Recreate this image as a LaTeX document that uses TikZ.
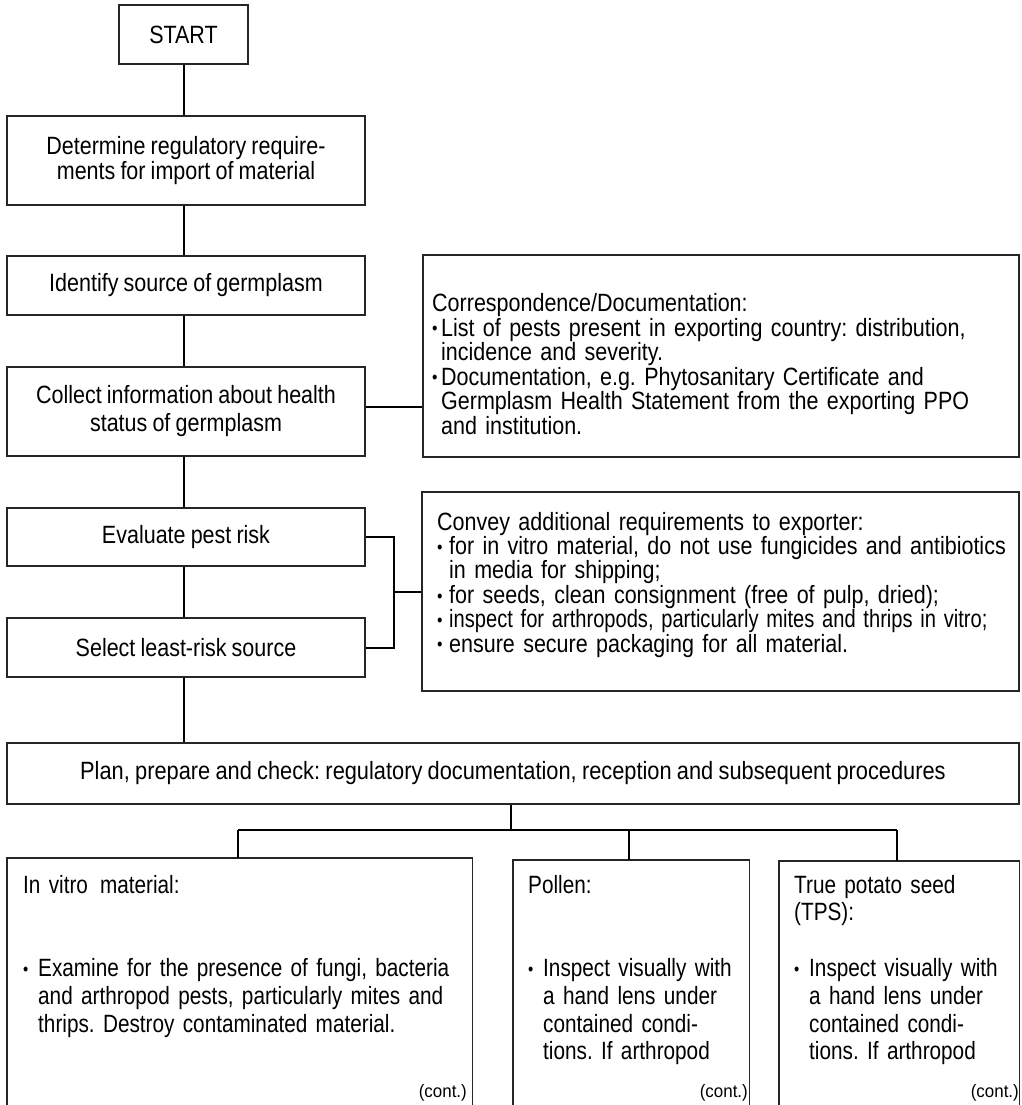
\documentclass[tikz,border=0pt]{standalone}
\usepackage{fontspec}
\setmainfont{Liberation Sans}[FakeStretch=0.86,WordSpace=0.86]
\newfontfamily\corrfont{Liberation Sans}[FakeStretch=0.86,WordSpace=0.86]
\newfontfamily\planfont{Liberation Sans}[FakeStretch=0.872,WordSpace=0.872]
\newfontfamily\childfont{Liberation Sans}[FakeStretch=0.83,WordSpace=0.83]
\newfontfamily\contfont{Liberation Sans}[FakeStretch=0.94]
\newcommand{\smallbullet}{\raisebox{1.2pt}{\scalebox{0.72}{\textbullet}}}
\newcommand{\blA}{\makebox[9pt][l]{\smallbullet}}
\newcommand{\blB}{\makebox[12pt][l]{\smallbullet}}
\newcommand{\blC}{\makebox[15pt][l]{\smallbullet}}
\begin{document}
\frenchspacing
\begin{tikzpicture}[x=1pt,y=-1pt,
  box/.style={draw=black!85, line width=1.4pt, inner sep=0pt, align=center,
              font=\fontsize{25}{25}\selectfont\frenchspacing},
  openbox/.style={inner sep=0pt},
  boxline/.style={draw=black!85, line width=1.4pt},
  conn/.style={line width=2pt, black},
  txt/.style={anchor=base west, inner sep=0pt, align=left},
  childtxt/.style={txt, font=\childfont\fontsize{25}{27.8}\selectfont\frenchspacing},
  conttxt/.style={anchor=base east, inner sep=0pt, font=\contfont\fontsize{18}{18}\selectfont}
]
\useasboundingbox (0,0) rectangle (1021,1105);

% left column
\node[box, minimum width=129pt, minimum height=59pt] (start) at (183.5,34.5) {START};
\node[box, minimum width=358pt, minimum height=89pt] (determine) at (186,160.5)
  {Determine regulatory require-\\ments for import of material};
\node[box, minimum width=358pt, minimum height=59pt] (identify) at (186,285.5)
  {Identify source of germplasm};
\node[box, minimum width=358pt, minimum height=89pt, font=\fontsize{25}{28}\selectfont\frenchspacing] (collect) at (186,411.5)
  {Collect information about health\\status of germplasm};
\node[box, minimum width=358pt, minimum height=58pt] (evaluate) at (186,537)
  {Evaluate pest risk};
\node[box, minimum width=358pt, minimum height=59pt] (select) at (186,647.5)
  {Select least-risk source};

% right boxes
\node[box, minimum width=596pt, minimum height=202pt] (corr) at (721,356) {};
\node[txt, text width=582pt, font=\corrfont\fontsize{25}{24.5}\selectfont\frenchspacing] (corrtext) at (432,311.5)
  {Correspondence/Documentation:\\
   \blA List of pests present in exporting country: distribution,\\
   \hspace*{9pt}incidence and severity.\\
   \blA Documentation, e.g. Phytosanitary Certificate and\\
   \hspace*{9pt}Germplasm Health Statement from the exporting PPO\\
   \hspace*{9pt}and institution.};

\node[box, minimum width=597pt, minimum height=199pt] (convey) at (720.5,591.5) {};
\node[txt, text width=580pt, font=\fontsize{25}{24.4}\selectfont\frenchspacing] (conveytext) at (437,530)
  {Convey additional requirements to exporter:\\
   \blB for in vitro material, do not use fungicides and antibiotics\\
   \hspace*{12pt}in media for shipping;\\
   \blB for seeds, clean consignment (free of pulp, dried);\\
   \blB \scalebox{0.935}[1]{inspect for arthropods, particularly mites and thrips in vitro;}\\
   \blB ensure secure packaging for all material.};

% plan
\node[box, minimum width=1012pt, minimum height=61pt, font=\planfont\fontsize{25}{25}\selectfont\frenchspacing] (plan) at (513,773.5)
  {Plan, prepare and check: regulatory documentation, reception and subsequent procedures};

% child boxes (open at the bottom)
\node[openbox, minimum width=465pt, minimum height=247pt] (vitro) at (239.5,981.5) {};
\node[openbox, minimum width=236pt, minimum height=245pt] (pollen) at (631,982.5) {};
\node[openbox, minimum width=240pt, minimum height=244pt] (tps) at (899,983) {};
\foreach \b in {vitro,pollen,tps}{
  \draw[boxline] (\b.south west) -- (\b.north west) -- (\b.north east) -- (\b.south east);
}

\node[childtxt, text width=440pt] (vitrotext) at (23,893)
  {In vitro\hspace{12pt}material:\\[55.6pt]
   \blC Examine for the presence of fungi, bacteria\\
   \hspace*{15pt}and arthropod pests, particularly mites and\\
   \hspace*{15pt}thrips. Destroy contaminated material.};
\node[childtxt, text width=215pt] (pollentext) at (528,893)
  {Pollen:\\[55.6pt]
   \blC Inspect visually with\\
   \hspace*{15pt}a hand lens under\\
   \hspace*{15pt}contained condi-\\
   \hspace*{15pt}tions. If arthropod};
\node[childtxt, text width=220pt] (tpstext) at (794,893)
  {True potato seed\\
   (TPS):\\[27.8pt]
   \blC Inspect visually with\\
   \hspace*{15pt}a hand lens under\\
   \hspace*{15pt}contained condi-\\
   \hspace*{15pt}tions. If arthropod};

\node[conttxt] (cont1) at (467,1097) {(cont.)};
\node[conttxt] (cont2) at (748,1097) {(cont.)};
\node[conttxt] (cont3) at (1019,1097) {(cont.)};

% connectors
\draw[conn] (start.south) -- (start.south |- determine.north);
\draw[conn] (start.south |- determine.south) -- (start.south |- identify.north);
\draw[conn] (start.south |- identify.south) -- (start.south |- collect.north);
\draw[conn] (start.south |- collect.south) -- (start.south |- evaluate.north);
\draw[conn] (start.south |- evaluate.south) -- (start.south |- select.north);
\draw[conn] (start.south |- select.south) -- (start.south |- plan.north);

\coordinate (cj) at ([yshift=4.5pt]collect.east);
\draw[conn] (cj) -- (cj -| corr.west);

\coordinate (brk) at (394,591.5);
\draw[conn] (evaluate.east) -| (brk) |- (select.east);
\draw[conn] (brk) -- (convey.west);

\coordinate (fan) at (511,830);
\coordinate (vtop) at ([xshift=-1.5pt]vitro.north);
\coordinate (ptop) at ([xshift=-2pt]pollen.north);
\coordinate (ttop) at ([xshift=-2pt]tps.north);
\draw[conn] (fan |- plan.south) -- (fan);
\draw[conn] (vtop |- fan) -- (ttop |- fan);
\draw[conn] (vtop |- fan) -- (vtop);
\draw[conn] (ptop |- fan) -- (ptop);
\draw[conn] (ttop |- fan) -- (ttop);
\end{tikzpicture}
\end{document}
